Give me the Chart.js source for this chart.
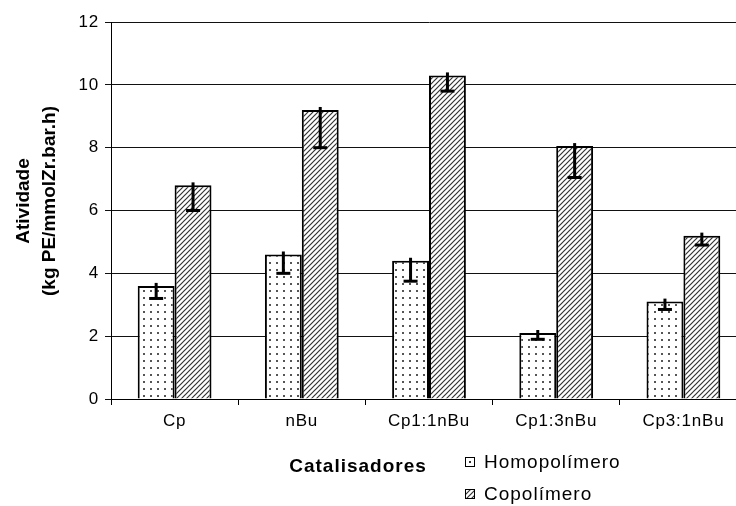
<!DOCTYPE html>
<html>
<head>
<meta charset="utf-8">
<script src="https://cdn.jsdelivr.net/npm/chart.js@4"></script>
<style>
  html, body { margin: 0; padding: 0; background: #fff; overflow: hidden; }
  #wrap { position: relative; width: 736px; height: 506px; overflow: hidden; }
  #box { position: absolute; left: 0; top: 0; width: 748px; height: 506px; }
</style>
</head>
<body>
<div id="wrap"><div id="box"><canvas id="myChart"></canvas></div></div>
<script>
const categories = ['Cp', 'nBu', 'Cp1:1nBu', 'Cp1:3nBu', 'Cp3:1nBu'];
const homoValues = [3.6, 4.6, 4.4, 2.1, 3.1];
const homoErr = [0.4, 0.6, 0.65, 0.2, 0.25];
const copoValues = [6.8, 9.2, 10.3, 8.05, 5.2];
const copoErr = [0.8, 1.2, 0.5, 1.0, 0.3];
const yTicks = [0, 2, 4, 6, 8, 10, 12];
const seriesNames = ['Homopolímero', 'Copolímero'];

// fill patterns
function dotPattern() {
  const c = document.createElement('canvas');
  c.width = 7; c.height = 7;
  const g = c.getContext('2d');
  g.fillStyle = '#fff';
  g.fillRect(0, 0, 7, 7);
  g.fillStyle = '#555';
  g.fillRect(3, 3, 2, 2);
  return g.createPattern(c, 'repeat');
}
function hatchPattern() {
  const c = document.createElement('canvas');
  c.width = 5; c.height = 5;
  const g = c.getContext('2d');
  g.fillStyle = '#fff';
  g.fillRect(0, 0, 5, 5);
  g.strokeStyle = '#333';
  g.lineWidth = 1.2;
  g.beginPath();
  g.moveTo(0, 5); g.lineTo(5, 0);
  g.moveTo(-1, 1); g.lineTo(1, -1);
  g.moveTo(4, 6); g.lineTo(6, 4);
  g.stroke();
  return g.createPattern(c, 'repeat');
}
const dots = dotPattern();
const hatch = hatchPattern();
const errors = [homoErr, copoErr];

const spacing = {
  id: 'spacing',
  beforeDraw(chart) { chart.ctx.letterSpacing = '0.8px'; }
};

const errorBars = {
  id: 'errorBars',
  afterDatasetsDraw(chart) {
    const ctx = chart.ctx;
    const y = chart.scales.y;
    ctx.save();
    ctx.setLineDash([]);
    ctx.strokeStyle = '#000';
    ctx.lineWidth = 3;
    ctx.lineCap = 'butt';
    chart.data.datasets.forEach((ds, i) => {
      chart.getDatasetMeta(i).data.forEach((bar, j) => {
        const top = y.getPixelForValue(ds.data[j]);
        const low = y.getPixelForValue(ds.data[j] - errors[i][j]);
        ctx.beginPath();
        ctx.moveTo(bar.x, top - 3);
        ctx.lineTo(bar.x, low);
        ctx.stroke();
        ctx.beginPath();
        ctx.moveTo(bar.x - 7, low);
        ctx.lineTo(bar.x + 7, low);
        ctx.stroke();
      });
    });
    ctx.restore();
  }
};

const extraText = {
  id: 'extraText',
  afterDraw(chart) {
    const ctx = chart.ctx;
    ctx.save();
    ctx.setLineDash([]);
    ctx.fillStyle = '#000';
    ctx.textAlign = 'center';
    ctx.textBaseline = 'middle';
    // y title
    ctx.save();
    ctx.translate(37, 201);
    ctx.rotate(-Math.PI / 2);
    ctx.font = 'bold 19px "Liberation Sans", Arial, sans-serif';
    ctx.letterSpacing = '0px';
    ctx.fillText('Atividade', 0, -13);
    ctx.fillText('(kg PE/mmolZr.bar.h)', 0, 13);
    ctx.restore();
    // x title
    ctx.font = 'bold 19px "Liberation Sans", Arial, sans-serif';
    ctx.letterSpacing = '1px';
    ctx.fillText('Catalisadores', 358, 467);
    // legend
    const fills = [dots, hatch];
    ctx.textAlign = 'left';
    ctx.font = '19px "Liberation Sans", Arial, sans-serif';
    ctx.letterSpacing = '1px';
    seriesNames.forEach((name, i) => {
      const cy = 462 + i * 32;
      ctx.fillStyle = i === 0 ? '#fff' : fills[i];
      ctx.fillRect(465, cy - 5, 10, 10);
      if (i === 0) { ctx.fillStyle = '#333'; ctx.fillRect(469, cy - 1, 2, 2); }
      ctx.strokeStyle = '#000';
      ctx.lineWidth = 1;
      ctx.strokeRect(465.5, cy - 4.5, 9, 9);
      ctx.fillStyle = '#000';
      ctx.fillText(name, 484, cy + 1);
    });
    ctx.restore();
  }
};

new Chart(document.getElementById('myChart'), {
  type: 'bar',
  data: {
    labels: categories,
    datasets: [
      { label: seriesNames[0], data: homoValues, backgroundColor: dots, borderColor: '#000', borderWidth: 2,
        categoryPercentage: 0.58, barPercentage: 1 },
      { label: seriesNames[1], data: copoValues, backgroundColor: hatch, borderColor: '#000', borderWidth: 2,
        categoryPercentage: 0.58, barPercentage: 1 }
    ]
  },
  options: {
    responsive: true,
    maintainAspectRatio: false,
    animation: false,
    layout: { padding: { top: 22, right: 1, left: 0, bottom: 0 } },
    plugins: { legend: { display: false }, tooltip: { enabled: false } },
    scales: {
      x: {
        grid: { display: true, offset: true, drawOnChartArea: false, drawTicks: true, tickLength: 6, color: '#000' },
        border: { color: '#000', width: 1 },
        ticks: { color: '#000', padding: 6, font: { family: '"Liberation Sans", Arial', size: 17 } },
        afterFit(scale) { scale.height = 107; }
      },
      y: {
        min: 0, max: 12,
        afterBuildTicks(scale) { scale.ticks = yTicks.map(v => ({ value: v })); },
        grid: { color: '#111', lineWidth: 1, tickLength: 6 },
        border: { color: '#000', width: 1 },
        ticks: { color: '#000', padding: 6, font: { family: '"Liberation Sans", Arial', size: 17 } },
        afterFit(scale) { scale.width = 111; }
      }
    }
  },
  plugins: [spacing, errorBars, extraText]
});
</script>
</body>
</html>
